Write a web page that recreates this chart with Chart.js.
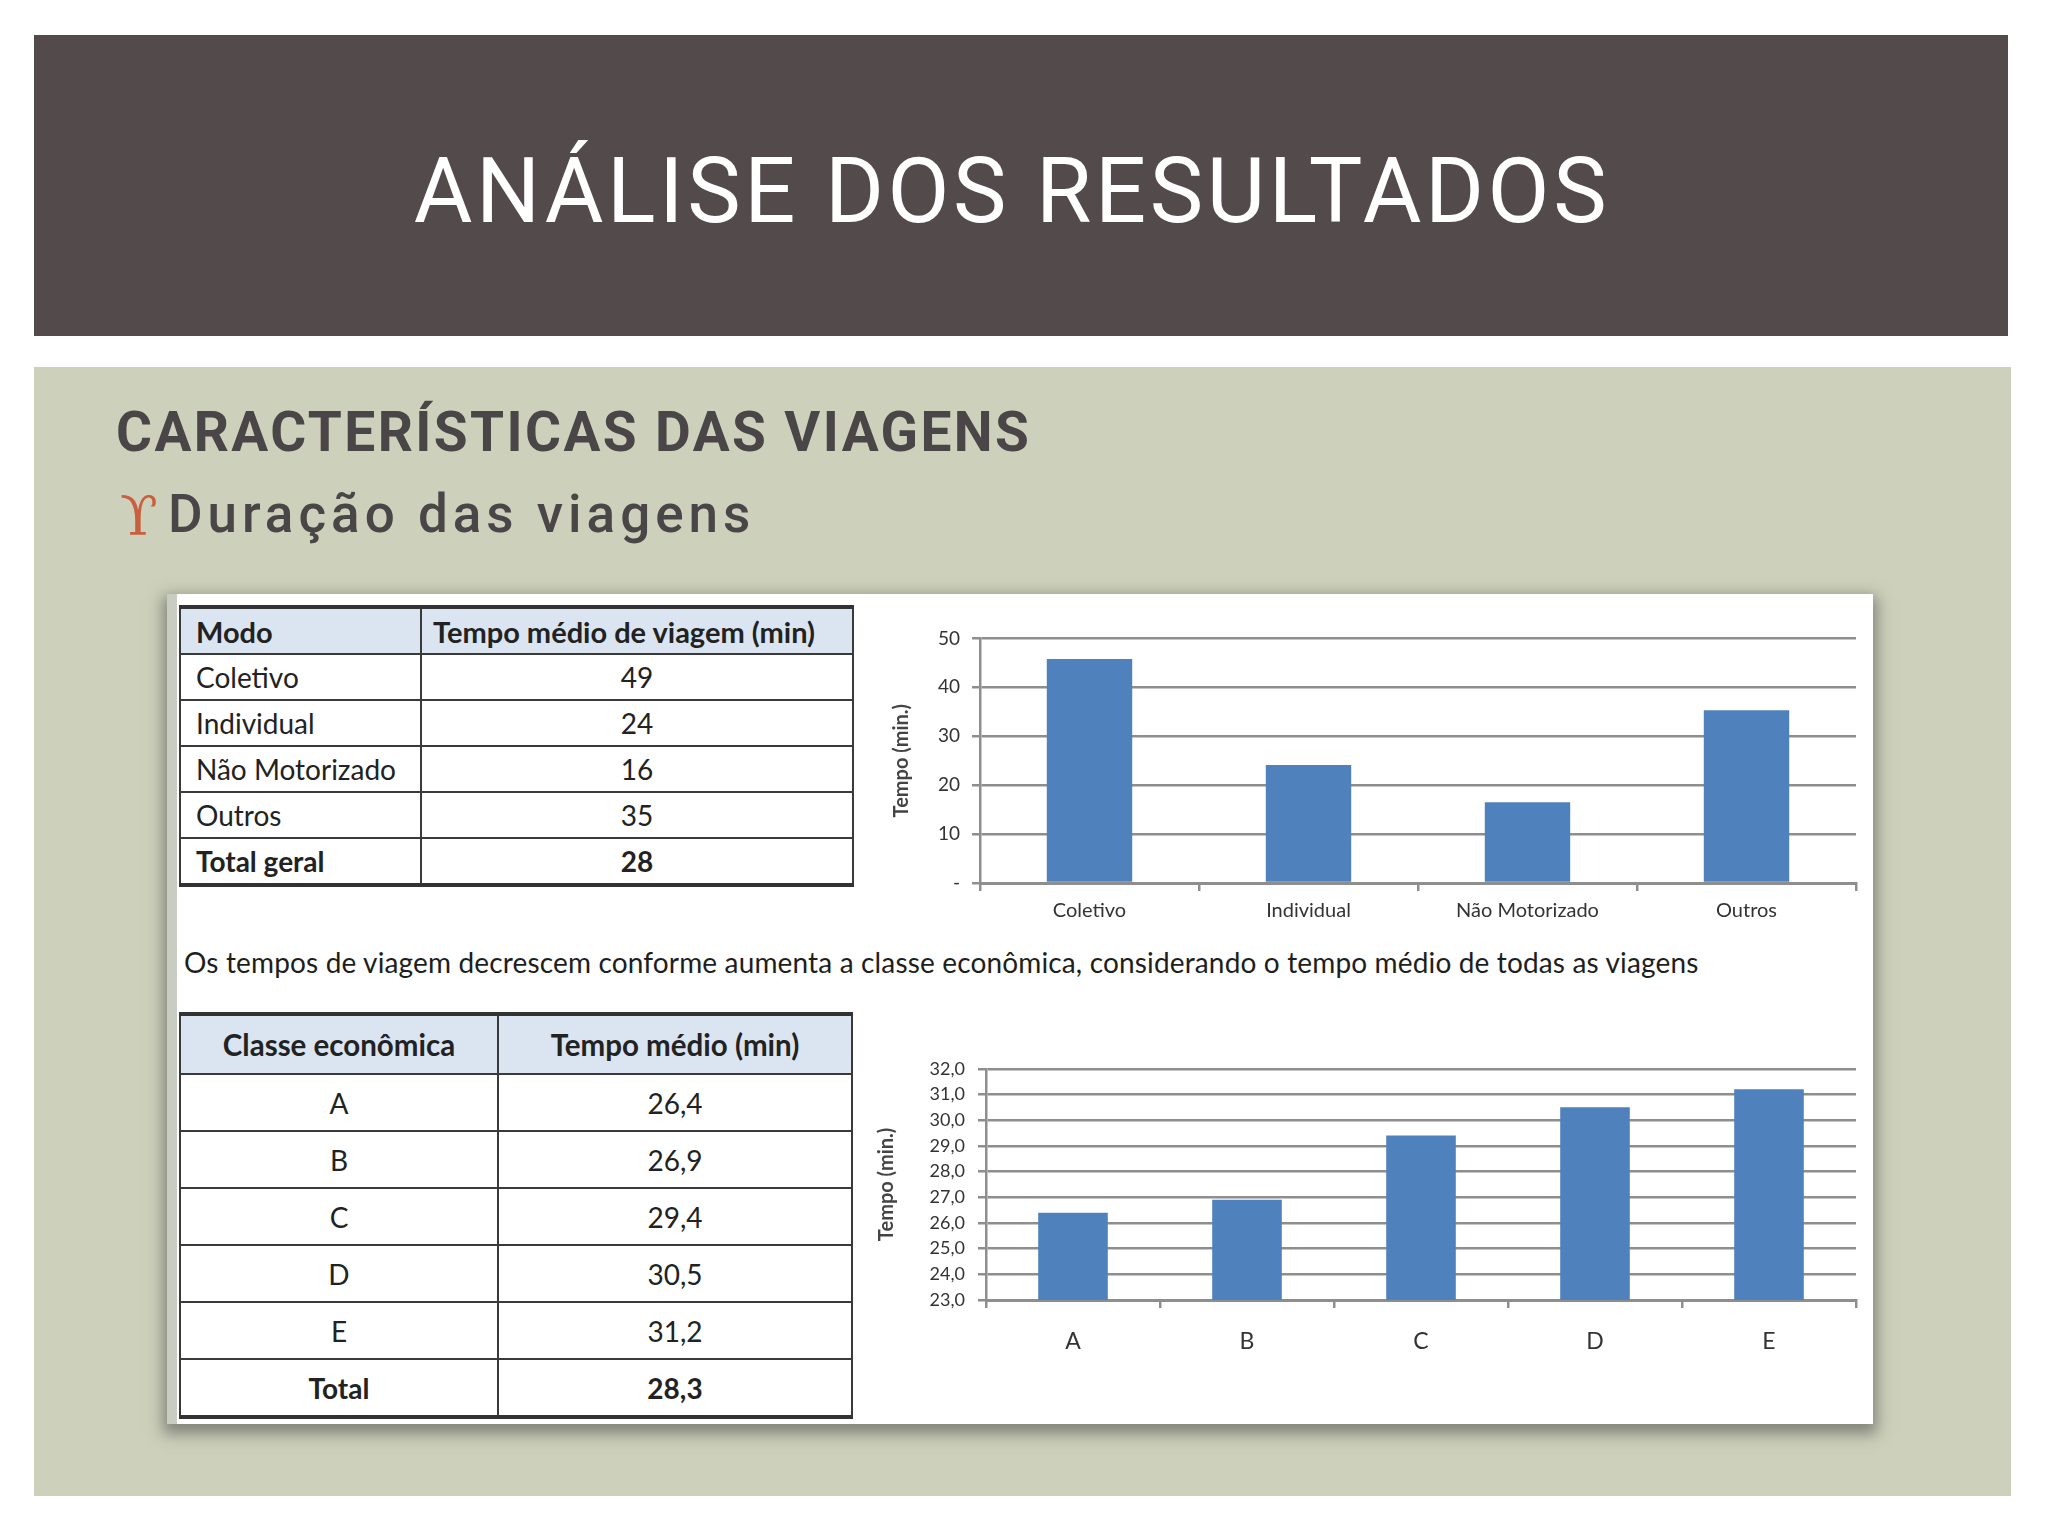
<!DOCTYPE html>
<html lang="pt">
<head>
<meta charset="UTF-8">
<title>Análise dos resultados</title>
<script src="https://cdn.jsdelivr.net/npm/chart.js"></script>
<style>
    html, body { margin: 0; padding: 0; }
    body { width: 2048px; height: 1536px; background: #ffffff; position: relative; overflow: hidden; font-family: Roboto, sans-serif; }
    .banner { position: absolute; left: 34px; top: 35px; width: 1974px; height: 301px; background: #524a4b; }
    .banner h1 { position: absolute; left: 0; right: 18px; top: 112px; margin: 0; text-align: center; color: #ffffff;
                 font: 400 90px/90px Roboto, sans-serif; letter-spacing: 3.6px; }
    .panel { position: absolute; left: 34px; top: 367px; width: 1977px; height: 1129px; background: #cdd1bb; }
    .sub { position: absolute; left: 116px; top: 405px; margin: 0; color: #4a4546; font: 700 55px/55px Roboto, sans-serif; letter-spacing: 2.4px; }
    .bullet { position: absolute; left: 120px; top: 489px; color: #c8603f; font: 300 55px/55px "DejaVu Serif", serif; }
    .item { position: absolute; left: 168px; top: 488px; color: #4a4546; font: 500 53px/53px Roboto, sans-serif; letter-spacing: 5px; }
    .card { position: absolute; left: 167px; top: 594px; width: 1706px; height: 830px; background: #ffffff;
            box-shadow: 0 6px 14px 4px rgba(70, 70, 70, 0.55); border-left: 10px solid #c9ccc0; box-sizing: border-box; }
    table { position: absolute; border-collapse: collapse; font-family: Lato, sans-serif; color: #222; background: #fff; }
    td { border: 2px solid #3a3a3a; padding: 0; }
    tr.head td { background: #dbe5f1; font-weight: 700; }
    tr.tot td { font-weight: 700; }
    #t1 { left: 179px; top: 605px; width: 675px; font-size: 28px; border-top: 4px solid #333; border-bottom: 4px solid #333; }
    #t1 td { height: 44px; }
    #t1 tr.head td { font-size: 29px; }
    #t1 td:first-child { width: 224px; padding-left: 15px; }
    #t1 td:last-child { text-align: center; }
    #t1 tr.head td:last-child { text-align: left; padding-left: 11px; }
    #t2 { left: 179px; top: 1012px; width: 674px; font-size: 28px; border-top: 4px solid #333; border-bottom: 4px solid #333; }
    #t2 td { height: 55px; text-align: center; }
    #t2 tr.head td { height: 57px; font-size: 29.5px; }
    #t2 td:first-child { width: 316px; }
    .caption { position: absolute; left: 184px; top: 945px; font: 400 28px/34px Lato, sans-serif; letter-spacing: 0.15px; color: #1e1e1e; }
    canvas { position: absolute; }
    #c1 { left: 890px; top: 615px; }
    #c2 { left: 875px; top: 1045px; }
</style>
</head>
<body>
<div class="banner"><h1>ANÁLISE DOS RESULTADOS</h1></div>
<div class="panel"></div>
<div class="sub">CARACTERÍSTICAS DAS VIAGENS</div>
<div class="bullet">ϒ</div>
<div class="item">Duração das viagens</div>
<div class="card"></div>

<table id="t1"></table>
<div class="caption">Os tempos de viagem decrescem conforme aumenta a classe econômica, considerando o tempo médio de todas as viagens</div>
<table id="t2"></table>

<canvas id="c1" width="975" height="313"></canvas>
<canvas id="c2" width="990" height="320"></canvas>

<script>
// upper chart: travel time by mode (bar heights)
const modos = ['Coletivo', 'Individual', 'Não Motorizado', 'Outros'];
const tempoModo = [45.8, 24.1, 16.5, 35.3];
const ticksModo = [0, 10, 20, 30, 40, 50];

// lower chart: travel time by economic class
const classes = ['A', 'B', 'C', 'D', 'E'];
const tempoClasse = [26.4, 26.9, 29.4, 30.5, 31.2];
const ticksClasse = [23, 24, 25, 26, 27, 28, 29, 30, 31, 32];

// table texts
const cabecalhoModo = ['Modo', 'Tempo médio de viagem (min)'];
const valoresModo = ['49', '24', '16', '35'];
const totalModo = ['Total geral', '28'];
const cabecalhoClasse = ['Classe econômica', 'Tempo médio (min)'];
const valoresClasse = ['26,4', '26,9', '29,4', '30,5', '31,2'];
const totalClasse = ['Total', '28,3'];

function row(cells, cls) {
    return '<tr' + (cls ? ' class="' + cls + '"' : '') + '>' +
        cells.map(c => '<td>' + c + '</td>').join('') + '</tr>';
}

let html = row(cabecalhoModo, 'head');
modos.forEach((m, i) => { html += row([m, valoresModo[i]]); });
html += row(totalModo, 'tot');
document.getElementById('t1').innerHTML = html;

html = row(cabecalhoClasse, 'head');
classes.forEach((c, i) => { html += row([c, valoresClasse[i]]); });
html += row(totalClasse, 'tot');
document.getElementById('t2').innerHTML = html;

Chart.defaults.font.family = 'Lato, sans-serif';
Chart.defaults.color = '#333';

const gridGray = '#8e8e8e';
const barBlue = '#4f81bd';

function makeChart(id, labels, values, yOpts, sizes) {
    return new Chart(document.getElementById(id), {
        type: 'bar',
        data: {
            labels: labels,
            datasets: [{ data: values, backgroundColor: barBlue, categoryPercentage: 1, barPercentage: sizes.bar }]
        },
        options: {
            responsive: false,
            animation: false,
            layout: { padding: { top: sizes.top, right: 9, left: 0, bottom: 0 } },
            plugins: { legend: { display: false }, tooltip: { enabled: false } },
            scales: {
                x: {
                    grid: { drawOnChartArea: false, drawTicks: true, tickLength: 8, color: gridGray, lineWidth: 2.5 },
                    border: { display: true, color: gridGray, width: 3 },
                    ticks: { font: { size: sizes.xFont }, padding: sizes.xPad, color: '#333' },
                    afterFit: s => { s.height = sizes.xHeight; }
                },
                y: Object.assign({
                    grid: { color: gridGray, lineWidth: 2.5, tickLength: 8 },
                    border: { display: true, color: gridGray, width: 2.5 },
                    title: { display: true, text: 'Tempo (min.)', font: { size: 20, weight: '700' }, color: '#444', padding: { top: 0, bottom: 2 } },
                    afterFit: s => { s.width = sizes.yWidth; }
                }, yOpts)
            }
        }
    });
}

makeChart('c1', modos, tempoModo, {
    min: 0, max: 50,
    afterBuildTicks: s => { s.ticks = ticksModo.map(v => ({ value: v })); },
    ticks: { autoSkip: false, font: { size: 19 }, padding: 12, color: '#333', callback: v => v === 0 ? '-' : v }
}, { bar: 0.39, top: 20, xFont: 20, xPad: 8, xHeight: 45, yWidth: 90 });

makeChart('c2', classes, tempoClasse, {
    min: 23, max: 32,
    afterBuildTicks: s => { s.ticks = ticksClasse.map(v => ({ value: v })); },
    ticks: { autoSkip: false, font: { size: 18 }, padding: 13, color: '#333', callback: v => v.toFixed(1).replace('.', ',') }
}, { bar: 0.4, top: 23, xFont: 23, xPad: 20, xHeight: 65, yWidth: 111 });
</script>
</body>
</html>
